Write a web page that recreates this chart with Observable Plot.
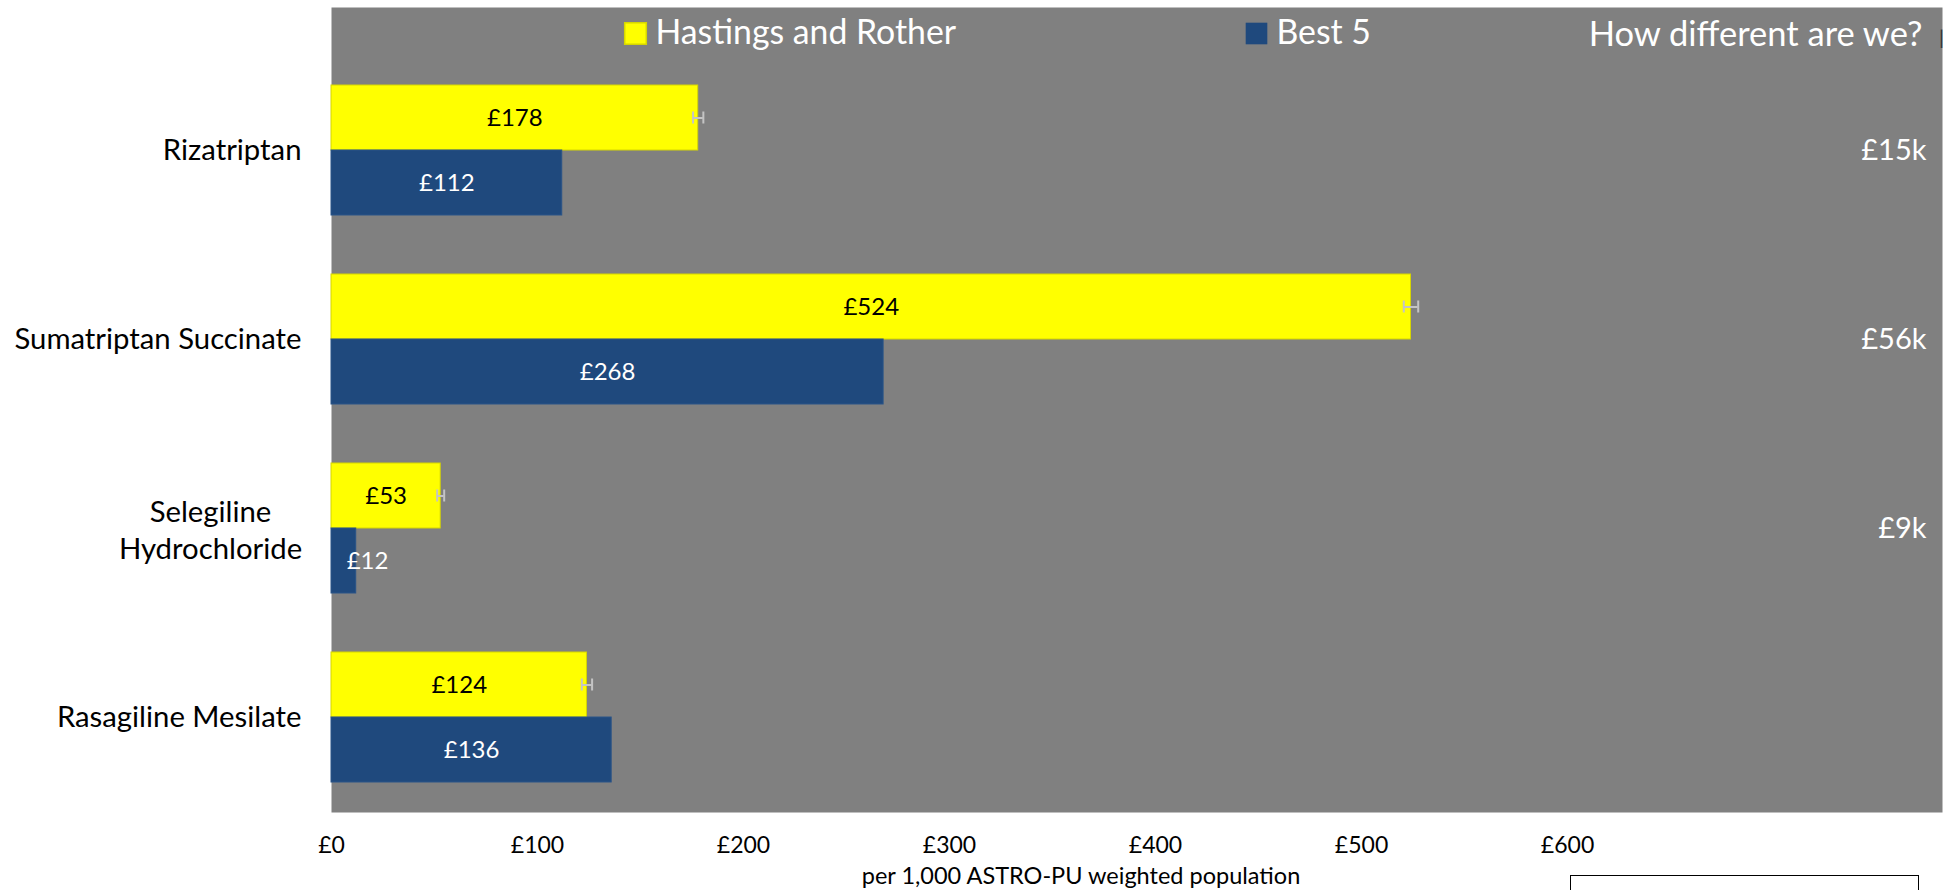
<!DOCTYPE html>
<html>
<head>
<meta charset="utf-8">
<script src="https://cdn.jsdelivr.net/npm/d3@7"></script>
<script src="https://cdn.jsdelivr.net/npm/@observablehq/plot@0.6"></script>
<style>
  html, body { margin: 0; padding: 0; background: #fff; }
  #wrap { position: relative; width: 1947px; height: 890px; overflow: hidden; font-family: Lato, sans-serif; }
  #wrap svg { display: block; }
  .textbox { position: absolute; left: 1570px; top: 875px; width: 347px; height: 30px; border: 1.5px solid #000; background: #fff; }
</style>
</head>
<body>
<div id="wrap"></div>
<script>
// ---- data ----
const categories = ["Rizatriptan", "Sumatriptan Succinate", "Selegiline Hydrochloride", "Rasagiline Mesilate"];
const hastings = [178, 524, 53, 124];
const best5 = [112, 268, 12, 136];
const hastingsErr = [2.5, 3.5, 1.7, 2.5];
const differences = ["£15k", "£56k", "£9k", ""];
const seriesNames = ["Hastings and Rother", "Best 5"];
const xTicks = [0, 100, 200, 300, 400, 500, 600];
const headerText = "How different are we?";
const axisTitle = "per 1,000 ASTRO-PU weighted population";

const YELLOW = "#FFFF00";
const BLUE = "#1F497D";
const GRAY = "#808080";

const hData = categories.map((c, i) => ({category: c, value: hastings[i], err: hastingsErr[i]}));
const bData = categories.map((c, i) => ({category: c, value: best5[i]}));
const dData = categories.map((c, i) => ({category: c, text: differences[i]}));

const half = 65;       // each bar's thickness within a 130px band
const lbl = v => "£" + v;

const chart = Plot.plot({
  width: 1947,
  height: 890,
  marginLeft: 331,
  marginRight: 5,
  marginTop: 7,
  marginBottom: 78,
  style: {fontFamily: "Lato, sans-serif", background: "transparent", overflow: "visible"},
  x: {domain: [0, 782]},
  y: {domain: categories, insetTop: 47, paddingInner: 0.314, paddingOuter: 0.157},
  marks: [
    Plot.frame({fill: GRAY, stroke: null}),
    // bars
    Plot.barX(hData, {x: "value", y: "category", fill: YELLOW, stroke: "#d6d600", strokeWidth: 1, insetBottom: half}),
    Plot.barX(bData, {x: "value", y: "category", fill: BLUE, stroke: "#2a5488", strokeWidth: 1, insetTop: half}),
    // error bars on Hastings series
    Plot.ruleY(hData, {y: "category", x1: d => d.value - d.err, x2: d => d.value + d.err, dy: -half / 2, stroke: "#c4c4c4", strokeWidth: 2}),
    Plot.tickX(hData, {x: d => d.value - d.err, y: "category", insetTop: half / 2 - 6, insetBottom: half * 1.5 - 6, stroke: "#c4c4c4", strokeWidth: 2}),
    Plot.tickX(hData, {x: d => d.value + d.err, y: "category", insetTop: half / 2 - 6, insetBottom: half * 1.5 - 6, stroke: "#c4c4c4", strokeWidth: 2}),
    // value labels
    Plot.text(hData, {x: d => Math.max(d.value / 2, 17.5), y: "category", dy: -half / 2, text: d => lbl(d.value), fill: "#000", fontSize: 24}),
    Plot.text(bData, {x: d => Math.max(d.value / 2, 17.5), y: "category", dy: half / 2, text: d => lbl(d.value), fill: "#fff", fontSize: 24}),
    // difference column
    Plot.text(dData, {y: "category", frameAnchor: "right", dx: -16, textAnchor: "end", text: "text", fill: "#fff", fontSize: 29}),
    Plot.text([headerText], {frameAnchor: "top-right", dx: -20, dy: 27, textAnchor: "end", lineAnchor: "middle", text: d => d, fill: "#fff", fontSize: 34.5}),
    Plot.text(["|"], {frameAnchor: "top-right", dx: -1, dy: 31, textAnchor: "middle", lineAnchor: "middle", text: d => d, fill: "#333", fontSize: 20}),
    // legend
    Plot.dot([seriesNames[0]], {frameAnchor: "top-left", dx: 304, dy: 26, symbol: "square", r: 12.2, fill: YELLOW, stroke: "#d6d600"}),
    Plot.text([seriesNames[0]], {frameAnchor: "top-left", dx: 324, dy: 26, textAnchor: "start", lineAnchor: "middle", text: d => d, fill: "#fff", fontSize: 33.8}),
    Plot.dot([seriesNames[1]], {frameAnchor: "top-left", dx: 925, dy: 26, symbol: "square", r: 12.2, fill: BLUE}),
    Plot.text([seriesNames[1]], {frameAnchor: "top-left", dx: 945, dy: 26, textAnchor: "start", lineAnchor: "middle", text: d => d, fill: "#fff", fontSize: 33.8}),
    // axes
    Plot.axisX({ticks: xTicks, tickFormat: lbl, tickSize: 0, tickPadding: 24, fontSize: 23, label: null, color: "#000"}),
    Plot.text([axisTitle], {frameAnchor: "bottom", dx: -56, dy: 64, textAnchor: "middle", lineAnchor: "middle", text: d => d, fill: "#000", fontSize: 23.5}),
    Plot.axisY({ticks: categories.filter(c => c !== "Selegiline Hydrochloride"), tickSize: 0, tickPadding: 30, fontSize: 29.3, label: null, color: "#000"}),
    Plot.axisY({ticks: ["Selegiline Hydrochloride"], tickFormat: d => d.replace(" ", "\n"), tickSize: 0, tickPadding: 121, textAnchor: "middle", lineHeight: 1.26, fontSize: 29.3, label: null, color: "#000"})
  ]
});

const wrap = document.getElementById("wrap");
wrap.appendChild(chart);
const box = document.createElement("div");
box.className = "textbox";
wrap.appendChild(box);
</script>
</body>
</html>
